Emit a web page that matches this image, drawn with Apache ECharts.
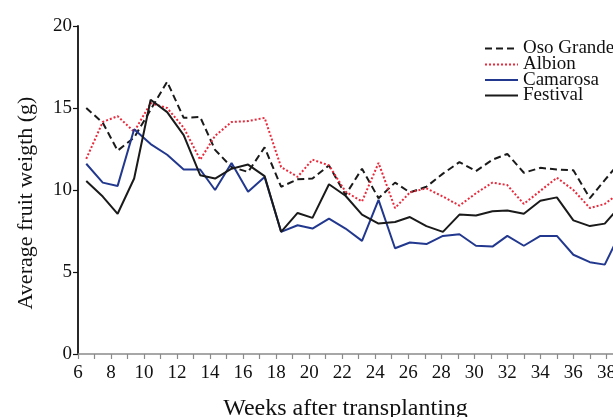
<!DOCTYPE html>
<html>
<head>
<meta charset="utf-8">
<script src="https://cdn.jsdelivr.net/npm/echarts@6/dist/echarts.min.js"></script>
<style>
  html, body { margin: 0; padding: 0; background: #fff; }
  #chart { width: 613px; height: 417px; }
</style>
</head>
<body>
<div id="chart"></div>
<script>
// sampling weeks (points sit roughly half a week past each tick)
const weeks = [6.5, 7.5, 8.4, 9.4, 10.4, 11.4, 12.4, 13.4, 14.3, 15.3, 16.3, 17.3, 18.3, 19.3, 20.2, 21.2, 22.2,
  23.2, 24.2, 25.2, 26.1, 27.1, 28.1, 29.1, 30.1, 31.1, 32.0, 33.0, 34.0, 35.0, 36.0, 37.0, 37.9, 38.9];

const osoGrande = [15.0, 14.1, 12.4, 13.2, 14.9, 16.6, 14.4, 14.45, 12.45, 11.4, 11.1, 12.6, 10.2, 10.65, 10.7, 11.5, 9.7,
  11.3, 9.5, 10.45, 9.85, 10.2, 11.0, 11.7, 11.15, 11.85, 12.2, 11.05, 11.35, 11.25, 11.2, 9.5, 10.6, 11.8];
const albion = [11.9, 14.15, 14.5, 13.55, 15.3, 15.0, 13.8, 11.85, 13.3, 14.15, 14.2, 14.4, 11.4, 10.8, 11.85, 11.5, 9.9,
  9.3, 11.65, 8.9, 9.85, 10.1, 9.6, 9.05, 9.8, 10.45, 10.3, 9.15, 9.95, 10.75, 10.0, 8.9, 9.15, 9.9];
const camarosa = [11.6, 10.45, 10.25, 13.7, 12.8, 12.15, 11.25, 11.25, 10.0, 11.65, 9.9, 10.8, 7.45, 7.85, 7.65, 8.25, 7.65,
  6.9, 9.4, 6.45, 6.8, 6.7, 7.2, 7.3, 6.6, 6.55, 7.2, 6.6, 7.2, 7.2, 6.05, 5.6, 5.45, 7.5];
const festival = [10.55, 9.6, 8.55, 10.7, 15.5, 14.75, 13.35, 10.9, 10.7, 11.3, 11.55, 10.85, 7.45, 8.6, 8.3, 10.35, 9.65,
  8.5, 7.95, 8.05, 8.35, 7.8, 7.45, 8.5, 8.45, 8.7, 8.75, 8.55, 9.35, 9.55, 8.15, 7.8, 7.95, 9.1];

const seriesNames = ["Oso Grande", "Albion", "Camarosa", "Festival"];

const FONT = "'Liberation Serif', 'Times New Roman', serif";

const pairs = (ys) => weeks.map((w, i) => [w, ys[i]]);

const chart = echarts.init(document.getElementById("chart"), undefined, { renderer: "canvas" });

const line = (name, data, color, type) => ({
  name,
  type: "line",
  data: pairs(data),
  symbol: "none",
  clip: true,
  lineStyle: { color, width: 2, type },
  itemStyle: { color },
});

// one legend per row so the rows can sit as tight as in the original
const legendRowTops = [34, 50, 65.5, 81];
const legends = seriesNames.map((n, i) => ({
  left: 479,
  top: legendRowTops[i],
  itemGap: 0,
  itemWidth: 33,
  itemHeight: 10,
  itemStyle: { opacity: 0 },
  textStyle: { fontFamily: FONT, fontSize: 19, color: "#111" },
  data: [n],
}));

chart.setOption({
  animation: false,
  grid: { left: 78, right: 0, top: 26, bottom: 63, containLabel: false, outerBoundsMode: "none" },
  legend: legends,
  xAxis: {
    type: "value",
    min: 6,
    max: 38.4,
    interval: 1,
    name: "Weeks after transplanting",
    nameLocation: "middle",
    nameGap: 43,
    nameTextStyle: { fontFamily: FONT, fontSize: 24, color: "#111" },
    axisLine: { show: true, onZero: false, lineStyle: { color: "#8a8a8a", width: 1.5 } },
    axisTick: { show: true, length: 5, lineStyle: { color: "#8a8a8a", width: 1.2 } },
    axisLabel: {
      fontFamily: FONT, fontSize: 19, color: "#111", margin: 10, showMaxLabel: false,
      formatter: (v) => (Number.isInteger(v) && v % 2 === 0 ? String(v) : ""),
    },
    splitLine: { show: false },
  },
  yAxis: {
    type: "value",
    min: 0,
    max: 20,
    interval: 5,
    name: "Average fruit weigth (g)",
    nameLocation: "middle",
    nameGap: 41,
    nameTextStyle: { fontFamily: FONT, fontSize: 22, color: "#111", padding: [0, 26, 0, 0] },
    axisLine: { show: true, lineStyle: { color: "#111", width: 1.8 } },
    axisTick: { show: true, length: 5, lineStyle: { color: "#111", width: 1.2 } },
    axisLabel: { fontFamily: FONT, fontSize: 19, color: "#111", margin: 6 },
    splitLine: { show: false },
  },
  series: [
    line(seriesNames[0], osoGrande, "#1a1a1a", [7, 4]),
    line(seriesNames[1], albion, "#ea2a3c", [2, 2]),
    line(seriesNames[2], camarosa, "#22388f", "solid"),
    line(seriesNames[3], festival, "#1a1a1a", "solid"),
  ],
});
</script>
</body>
</html>
